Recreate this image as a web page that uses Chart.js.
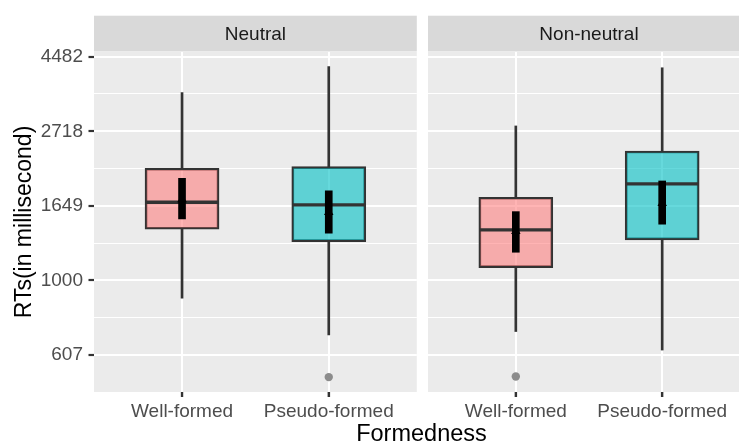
<!DOCTYPE html>
<html>
<head>
<meta charset="utf-8">
<script src="https://cdn.jsdelivr.net/npm/chart.js@4/dist/chart.umd.min.js"></script>
<style>
  html, body { margin: 0; padding: 0; background: #fff; }
  #wrap { position: relative; width: 739px; height: 444px; overflow: hidden; background: #fff; }
  .panel { position: absolute; top: 0; height: 444px; }
  #xtitle {
    position: absolute; left: 0; width: 843px; top: 421.5px;
    text-align: center; font: 23.5px "Liberation Sans", Arial, sans-serif;
    line-height: 1; color: #000;
  }
</style>
</head>
<body>
<div id="wrap">
  <div class="panel" style="left:0;width:422px"><canvas id="c0" width="422" height="444"></canvas></div>
  <div class="panel" style="left:422px;width:328px"><canvas id="c1" width="328" height="444"></canvas></div>
  <div id="xtitle">Formedness</div>
</div>
<script>
// Reaction times (ms) per facet [Neutral, Non-neutral], each [Well-formed, Pseudo-formed]
const facets = ['Neutral', 'Non-neutral'];
const categories = ['Well-formed', 'Pseudo-formed'];
const whiskerLow  = [[888, 694], [710, 627]];
const q1          = [[1409, 1297], [1090, 1312]];
const median      = [[1689, 1659], [1403, 1910]];
const q3          = [[2121, 2145], [1747, 2382]];
const whiskerHigh = [[3521, 4192], [2817, 4161]];
const ciLow       = [[1510, 1372], [1208, 1458]];
const ciHigh      = [[1984, 1822], [1586, 1948]];
const meanRT      = [[1720, 1580], [1390, 1678]];
const outliers    = [[null, 523], [525, null]];
const yTickLabels = [607, 1000, 1649, 2718, 4482];

const FONT = '"Liberation Sans", Arial, sans-serif';
const FILLS = ['rgba(255,118,118,0.55)', 'rgba(0,191,196,0.6)'];
const DARK = '#333333';

// minor grid lines sit halfway (in log space) between labelled ticks
const minorTicks = yTickLabels.slice(1).map((v, i) => Math.sqrt(v * yTickLabels[i]));
const isMajor = v => yTickLabels.includes(v);

// grey panel background, facet strip and category tick marks
const facetPanel = {
  id: 'facetPanel',
  beforeDraw(chart, args, opts) {
    const { ctx, chartArea: a } = chart;
    ctx.save();
    ctx.fillStyle = '#EBEBEB';
    ctx.fillRect(a.left, a.top, a.right - a.left, a.bottom - a.top);
    ctx.fillStyle = '#D9D9D9';
    ctx.fillRect(a.left, 15.7, a.right - a.left, 35.8);
    ctx.fillStyle = '#1A1A1A';
    ctx.font = '19px ' + FONT;
    ctx.textAlign = 'center';
    ctx.textBaseline = 'alphabetic';
    ctx.fillText(opts.label, (a.left + a.right) / 2, 40);
    ctx.restore();
  },
  afterDraw(chart) {
    const { ctx, chartArea: a, scales } = chart;
    ctx.save();
    ctx.strokeStyle = DARK;
    ctx.lineWidth = 2.2;
    scales.x.ticks.forEach(t => {
      const px = scales.x.getPixelForValue(t.value);
      ctx.beginPath();
      ctx.moveTo(px, a.bottom);
      ctx.lineTo(px, a.bottom + 5);
      ctx.stroke();
    });
    ctx.restore();
  }
};

function facetDatasets(f) {
  const xs = categories.map((_, i) => i + 1);
  const span = (lo, hi) => xs.map((x, i) => ({ x, y: [lo[f][i], hi[f][i]] }));
  const pts = arr => xs.map((x, i) => ({ x, y: arr[f][i] })).filter(p => p.y != null);
  const barBase = { type: 'bar', grouped: false, borderSkipped: false };
  return [
    { ...barBase, data: span(q3, whiskerHigh), backgroundColor: DARK, barThickness: 2, order: 7 },
    { ...barBase, data: span(whiskerLow, q1), backgroundColor: DARK, barThickness: 2, order: 7 },
    { ...barBase, data: span(q1, q3), backgroundColor: FILLS, borderColor: DARK, borderWidth: 2, barThickness: 74, order: 6 },
    { type: 'line', data: pts(median), showLine: false, pointStyle: 'line', pointRadius: 36.5,
      pointBorderWidth: 3.3, pointBorderColor: DARK, order: 5 },
    { ...barBase, data: span(ciLow, ciHigh), backgroundColor: '#000', barThickness: 7, order: 4 },
    { type: 'line', data: pts(meanRT), showLine: false, pointStyle: 'triangle', pointRadius: 5.5,
      pointBackgroundColor: '#000', pointBorderWidth: 0, order: 3 },
    { type: 'line', data: pts(outliers), showLine: false, pointStyle: 'circle', pointRadius: 4.2,
      pointBackgroundColor: '#8C8C8C', pointBorderWidth: 0, order: 2 }
  ];
}

function makeChart(id, f, withYAxis) {
  return new Chart(document.getElementById(id), {
    type: 'bar',
    data: { datasets: facetDatasets(f) },
    plugins: [facetPanel],
    options: {
      responsive: false,
      devicePixelRatio: 1,
      animation: false,
      events: [],
      layout: {
        autoPadding: false,
        padding: withYAxis ? { left: 0, right: 5.2, top: 52, bottom: 0 }
                           : { left: 6, right: 0, top: 52, bottom: 0 }
      },
      plugins: {
        legend: { display: false },
        tooltip: { enabled: false },
        facetPanel: { label: facets[f] }
      },
      scales: {
        x: {
          type: 'linear', min: 0.4, max: 2.6, offset: false,
          afterBuildTicks: s => { s.ticks = categories.map((_, i) => ({ value: i + 1 })); },
          afterFit: s => { s.height = 52; s.paddingLeft = 0; s.paddingRight = 0; },
          ticks: {
            callback: v => categories[Math.round(v) - 1],
            color: '#4D4D4D', font: { family: FONT, size: 19 }, padding: 3,
            autoSkip: false, maxRotation: 0
          },
          grid: { offset: false, color: '#FFFFFF', lineWidth: 2, drawTicks: true,
                  tickColor: DARK, tickLength: 5, tickWidth: 2.2 },
          border: { display: false }
        },
        y: {
          type: 'logarithmic', min: 473.3, max: 4625,
          afterBuildTicks: s => {
            s.ticks = yTickLabels.concat(minorTicks).sort((a, b) => a - b).map(v => ({ value: v }));
          },
          afterFit: s => { s.width = withYAxis ? 94 : 0; s.paddingTop = 0; s.paddingBottom = 0; },
          ticks: {
            display: withYAxis,
            callback: v => (isMajor(v) ? String(v) : ''),
            color: '#4D4D4D', font: { family: FONT, size: 19 }, padding: 5.5, autoSkip: false
          },
          grid: {
            color: '#FFFFFF',
            lineWidth: c => (c.tick && isMajor(c.tick.value) ? 2 : 1.1),
            drawTicks: withYAxis,
            tickLength: 5.5,
            tickWidth: 2.2,
            tickColor: c => (c.tick && isMajor(c.tick.value) ? DARK : 'rgba(0,0,0,0)')
          },
          border: { display: false },
          title: {
            display: withYAxis, text: 'RTs(in millisecond)', color: '#000',
            font: { family: FONT, size: 23 }, padding: { top: 11, bottom: 0 }
          }
        }
      }
    }
  });
}

makeChart('c0', 0, true);
makeChart('c1', 1, false);
</script>
</body>
</html>
